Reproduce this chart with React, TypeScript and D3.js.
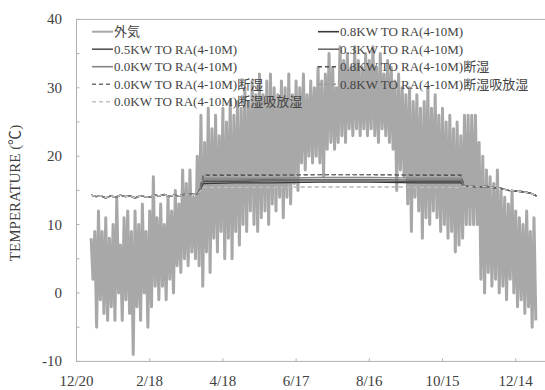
import React from 'react';
import * as d3 from 'd3';

// x axis: days counted from 12/20, ticks every 60 days
const tickDays = [0, 60, 120, 180, 240, 300, 360];
const tickLabels = ['12/20', '2/18', '4/18', '6/17', '8/16', '10/15', '12/14'];
const yLabels = [-10, 0, 10, 20, 30, 40];
const yMinor = [-10, -5, 0, 5, 10, 15, 20, 25, 30, 35, 40];

// 外気: one high and one low every 3 days starting on day 12 (1/1)
const outdoorStart = 12;
const outdoorHigh = [
  8, 9, 12, 9, 11, 8, 10, 14, 7, 11, 12, 9, 12, 10, 13, 9, 12, 17, 11, 13,
  10, 14, 12, 15, 13, 18, 16, 18, 14, 20, 26, 22, 27, 24, 26, 23, 27, 25, 28, 26,
  28, 27, 30, 28, 31, 29, 32, 29, 31, 32, 30, 29, 31, 30, 32, 29, 31, 30, 32, 29,
  31, 30, 33, 31, 32, 35, 33, 30, 36, 34, 35, 33, 36, 34, 33, 35, 34, 36, 33, 35,
  32, 34, 33, 31, 32, 30, 29, 30, 28, 29, 27, 28, 30, 27, 29, 26, 27, 25, 26, 24,
  25, 23, 26, 26, 26, 26, 22, 20, 18, 17, 16, 18, 15, 14, 13, 15, 12, 11, 10, 12,
  9, 11,
];
const outdoorLow = [
  2, -5, -1, -3, -4, -2, -4, 0, -4, -1, -3, -9, -2, -4, 0, -5, -2, 1, -1, 1,
  -1, 2, 0, 4, 3, 5, 4, 6, 5, 4, 1, 6, 3, 8, 6, 9, 5, 8, 5, 9,
  7, 10, 9, 12, 10, 9, 11, 12, 10, 13, 12, 14, 11, 14, 13, 16, 15, 19, 18, 20,
  19, 20, 19, 17, 21, 22, 21, 22, 23, 22, 24, 23, 24, 23, 24, 23, 24, 23, 22, 24,
  23, 22, 21, 15, 18, 17, 13, 9, 14, 12, 8, 11, 10, 12, 11, 9, 10, 8, 9, 6,
  7, 8, 10, 10, 10, 10, 2, 0, 3, 1, 2, 0, 1, -1, 2, 0, -2, -1, -3, -2,
  -5, -4,
];

// indoor series: shared before April and after October
const winterDays = [12, 16, 20, 24, 28, 32, 36, 40, 44, 48, 52, 56, 60, 64, 68, 72, 76, 80, 84, 88, 92, 96, 100];
const winterTemp = [14.3, 14.1, 14.2, 13.9, 14.2, 14.0, 14.3, 14.1, 14.2, 13.9, 14.2, 14.1, 14.0, 14.3, 14.2, 14.4, 14.1, 14.3, 14.2, 14.4, 14.5, 14.4, 14.6];
const summerDays = [104, 130, 160, 200, 240, 280, 315];
const autumnDays = [318, 324, 330, 336, 342, 348, 354, 360, 366, 372, 377];
const autumnTemp = [15.6, 15.6, 15.5, 15.6, 15.4, 15.3, 15.0, 14.9, 14.8, 14.6, 14.2];

const names = [
  '外気',
  '0.8KW TO RA(4-10M)',
  '0.5KW TO RA(4-10M)',
  '0.3KW TO RA(4-10M)',
  '0.0KW TO RA(4-10M)',
  '0.8KW TO RA(4-10M)断湿',
  '0.0KW TO RA(4-10M)断湿',
  '0.8KW TO RA(4-10M)断湿吸放湿',
  '0.0KW TO RA(4-10M)断湿吸放湿',
];
const summer08 = [16.0, 16.1, 16.1, 16.2, 16.2, 16.1, 16.1];
const summer05 = [16.3, 16.3, 16.4, 16.4, 16.4, 16.3, 16.3];
const summer03 = [16.5, 16.5, 16.6, 16.6, 16.6, 16.5, 16.5];
const summer00 = [16.8, 16.8, 16.8, 16.9, 16.9, 16.8, 16.8];
const summer08dh = [17.2, 17.2, 17.2, 17.3, 17.3, 17.2, 17.2];
const summer00dh = [17.3, 17.3, 17.3, 17.3, 17.3, 17.3, 17.3];
const summer08ab = [15.5, 15.5, 15.5, 15.5, 15.5, 15.5, 15.5];
const summer00ab = [15.45, 15.45, 15.45, 15.5, 15.5, 15.45, 15.45];
const summers = [summer08, summer05, summer03, summer00, summer08dh, summer00dh, summer08ab, summer00ab];

// styles by series index (same order as names)
const colors = ['#a8a8a8', '#383838', '#555555', '#6a6a6a', '#858585', '#505050', '#707070', '#9a9a9a', '#c4c4c4'];
const dashes = [null, null, null, null, null, '4,3', '4,3', '4,3', '4,3'];
const widths = [3, 1.3, 1.3, 1.3, 1.3, 1.2, 1.2, 1.2, 1.2];
const legendLeft = [0, 2, 4, 6, 8];
const legendRight = [1, 3, 5, 7];

const font = '"Liberation Serif", "Times New Roman", "Noto Sans CJK JP", serif';

export default function App() {
  const x = d3.scaleLinear().domain([0, 390]).range([76.5, 76.5 + 390 * 1.22]);
  const y = d3.scaleLinear().domain([-10, 40]).range([361.4, 19.4]);
  const line = d3.line<[number, number]>().x(d => x(d[0])).y(d => y(d[1]));

  const outdoor: [number, number][] = outdoorHigh.flatMap((h, i) => [
    [outdoorStart + 3 * i, h] as [number, number],
    [outdoorStart + 3 * i + 1.5, outdoorLow[i]] as [number, number],
  ]);

  const indoor = summers.map(s => [
    ...winterDays.map((d, i) => [d, winterTemp[i]] as [number, number]),
    ...summerDays.map((d, i) => [d, s[i]] as [number, number]),
    ...autumnDays.map((d, i) => [d, autumnTemp[i]] as [number, number]),
  ]);

  const legendItem = (idx: number, lx: number, ly: number) => (
    <g key={idx}>
      <line x1={lx} x2={lx + 21} y1={ly} y2={ly} stroke={colors[idx]}
        strokeWidth={idx === 0 ? 2 : 1.6} strokeDasharray={dashes[idx] ?? undefined} />
      <text x={lx + 22} y={ly + 4.5} fontSize={13} fill="#444">{names[idx]}</text>
    </g>
  );

  return (
    <svg width={545} height={390} style={{ position: 'fixed', left: 0, top: 0, background: '#fff' }}
      fontFamily={font}>
      {/* frame */}
      <line x1={x(0)} x2={560} y1={y(40)} y2={y(40)} stroke="#b0b0b0" />
      <line x1={x(0)} x2={560} y1={y(-10)} y2={y(-10)} stroke="#b0b0b0" />
      <line x1={x(0)} x2={x(0)} y1={y(40)} y2={y(-10)} stroke="#b0b0b0" />
      {yMinor.map(v => (
        <line key={v} x1={x(0)} x2={x(0) + 3} y1={y(v)} y2={y(v)} stroke="#b0b0b0" />
      ))}
      {tickDays.map(d => (
        <line key={d} x1={x(d)} x2={x(d)} y1={y(-10)} y2={y(-10) - 3} stroke="#b0b0b0" />
      ))}
      {yLabels.map(v => (
        <text key={v} x={62} y={y(v) + 5} textAnchor="end" fontSize={15} fill="#404040">{v}</text>
      ))}
      {tickDays.map((d, i) => (
        <text key={d} x={x(d)} y={386} textAnchor="middle" fontSize={15} fill="#404040">{tickLabels[i]}</text>
      ))}
      <text transform="translate(20,193) rotate(-90)" textAnchor="middle" fontSize={15} fill="#404040">
        TEMPERATURE (℃)
      </text>

      {/* series */}
      <path d={line(outdoor) ?? ''} fill="none" stroke={colors[0]} strokeWidth={widths[0]} strokeLinejoin="round" />
      {indoor.map((pts, k) => (
        <path key={k} d={line(pts) ?? ''} fill="none" stroke={colors[k + 1]} strokeWidth={widths[k + 1]}
          strokeDasharray={dashes[k + 1] ?? undefined} />
      ))}

      {/* legend */}
      {legendLeft.map((idx, r) => legendItem(idx, 92, 31.7 + r * 17.5))}
      {legendRight.map((idx, r) => legendItem(idx, 318, 31.7 + r * 17.5))}
    </svg>
  );
}
